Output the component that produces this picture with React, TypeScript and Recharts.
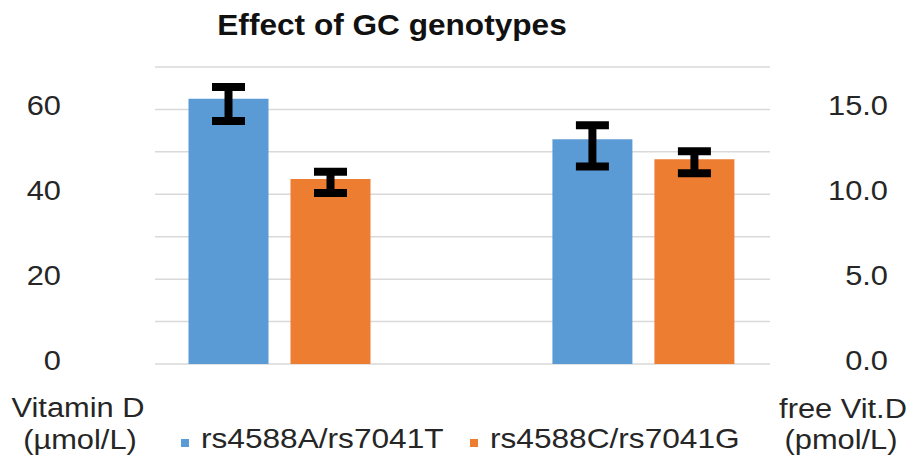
import {
  Bar,
  BarChart,
  CartesianGrid,
  Customized,
  ErrorBar,
  Legend,
  XAxis,
  YAxis,
} from 'recharts'

const TITLE = 'Effect of GC genotypes'
const CATEGORIES = ['Vitamin D', 'free Vit.D']
const CATEGORY_POS = [1, 2]
const SERIES = ['rs4588A/rs7041T', 'rs4588C/rs7041G']
const COLORS = ['#5B9BD5', '#ED7D31']

// Vitamin D (µmol/L), left axis
const VITD_A = 62.5
const VITD_B = 43.6
const VITD_A_ERR = [5.2, 2.8]
const VITD_B_ERR = [3.3, 1.7]

// free Vit.D (pmol/L), right axis
const FREE_A = 13.24
const FREE_B = 12.06
const FREE_A_ERR = [1.61, 0.83]
const FREE_B_ERR = [0.82, 0.47]

const LEFT_TICKS = [0, 20, 40, 60]
const LEFT_GRID = [0, 10, 20, 30, 40, 50, 60, 70]
const RIGHT_TICKS = [0, 5, 10, 15]

const data = [
  {
    name: CATEGORIES[0],
    x: CATEGORY_POS[0],
    vitA: VITD_A,
    vitB: VITD_B,
    vitAErr: VITD_A_ERR,
    vitBErr: VITD_B_ERR,
    freeA: null,
    freeB: null,
  },
  {
    name: CATEGORIES[1],
    x: CATEGORY_POS[1],
    vitA: null,
    vitB: null,
    freeA: FREE_A,
    freeB: FREE_B,
    freeAErr: FREE_A_ERR,
    freeBErr: FREE_B_ERR,
  },
]

const FONT = '"Liberation Sans", Arial, sans-serif'
const TEXT = '#262626'
const X_DOMAIN = [0.658, 2.348]
// the source picture is a little wider than tall, so text is stretched a bit
const SX = 1.1

function WideText({ x, y, anchor = 'start', sx = SX, size = 28, bold = false, fill = TEXT, children }: any) {
  return (
    <text
      transform={`translate(${x},${y}) scale(${sx},1)`}
      textAnchor={anchor}
      fontFamily={FONT}
      fontSize={size}
      fontWeight={bold ? 'bold' : 'normal'}
      fill={fill}
    >
      {children}
    </text>
  )
}

function LeftTick({ x, y, payload }: any) {
  return <WideText x={x} y={y + 6} anchor="end">{payload.value}</WideText>
}

function RightTick({ x, y, payload }: any) {
  return <WideText x={x} y={y + 6} anchor="end">{Number(payload.value).toFixed(1)}</WideText>
}

function Titles() {
  return (
    <g>
      <WideText x={392} y={35} anchor="middle" size={29} sx={1.09} bold fill="#111">
        {TITLE}
      </WideText>
      <WideText x={78} y={417} anchor="middle">Vitamin D</WideText>
      <WideText x={80} y={449} anchor="middle">(µmol/L)</WideText>
      <WideText x={843} y={418} anchor="middle">free Vit.D</WideText>
      <WideText x={841} y={449} anchor="middle">(pmol/L)</WideText>
    </g>
  )
}

const LEGEND_X = [181, 470]

function LegendContent() {
  return (
    <svg width={600} height={50} style={{ display: 'block', overflow: 'visible' }}>
      {SERIES.map((s, i) => (
        <g key={s}>
          <rect x={LEGEND_X[i] - 170} y={21} width={8} height={8} fill={COLORS[i]} />
          <WideText x={LEGEND_X[i] - 150} y={30} sx={1.13}>{s}</WideText>
        </g>
      ))}
    </svg>
  )
}

export default function App() {
  return (
    <div style={{ position: 'fixed', left: 0, top: 0, width: 912, height: 464, background: '#fff' }}>
      <BarChart
        width={912}
        height={464}
        data={data}
        margin={{ top: 67, right: 0, bottom: 100, left: 0 }}
        barSize={80}
        barGap={22}
      >
        <CartesianGrid
          yAxisId="left"
          xAxisId="a"
          vertical={false}
          horizontalValues={LEFT_GRID}
          stroke="#D9D9D9"
          strokeWidth={1.5}
        />
        <XAxis xAxisId="a" dataKey="x" type="number" domain={X_DOMAIN} ticks={CATEGORY_POS} hide />
        <XAxis xAxisId="b" dataKey="x" type="number" domain={X_DOMAIN} ticks={CATEGORY_POS} hide />
        <YAxis
          yAxisId="left"
          orientation="left"
          width={155}
          domain={[0, 70]}
          ticks={LEFT_TICKS}
          axisLine={false}
          tickLine={false}
          tickSize={0}
          tickMargin={94}
          tick={<LeftTick />}
        />
        <YAxis
          yAxisId="right"
          orientation="right"
          width={142}
          domain={[0, 17.5]}
          ticks={RIGHT_TICKS}
          axisLine={false}
          tickLine={false}
          tickSize={0}
          tickMargin={118}
          tick={<RightTick />}
        />
        <Bar xAxisId="a" yAxisId="left" dataKey="vitA" name={SERIES[0]} fill={COLORS[0]} isAnimationActive={false}>
          <ErrorBar dataKey="vitAErr" width={16.5} strokeWidth={8} stroke="#000" direction="y" />
        </Bar>
        <Bar xAxisId="a" yAxisId="left" dataKey="vitB" name={SERIES[1]} fill={COLORS[1]} isAnimationActive={false}>
          <ErrorBar dataKey="vitBErr" width={16.5} strokeWidth={8} stroke="#000" direction="y" />
        </Bar>
        <Bar xAxisId="b" yAxisId="right" dataKey="freeA" name={SERIES[0]} fill={COLORS[0]} isAnimationActive={false}>
          <ErrorBar dataKey="freeAErr" width={16.5} strokeWidth={8} stroke="#000" direction="y" />
        </Bar>
        <Bar xAxisId="b" yAxisId="right" dataKey="freeB" name={SERIES[1]} fill={COLORS[1]} isAnimationActive={false}>
          <ErrorBar dataKey="freeBErr" width={16.5} strokeWidth={8} stroke="#000" direction="y" />
        </Bar>
        <Legend
          layout="horizontal"
          verticalAlign="middle"
          align="center"
          content={<LegendContent />}
          wrapperStyle={{ position: 'absolute', left: 170, top: 418, width: 600 }}
        />
        <Customized component={Titles} />
      </BarChart>
    </div>
  )
}
